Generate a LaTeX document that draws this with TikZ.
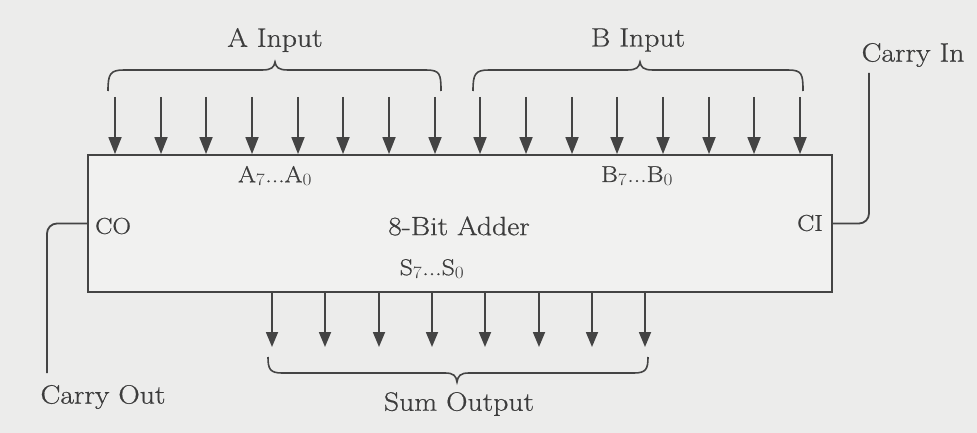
\documentclass[tikz,border=0pt]{standalone}
\usepackage{fontspec}
\usepackage{graphicx}
\setmainfont{Latin Modern Roman}[FakeBold=0.6,AutoFakeBold=0.6]
\usetikzlibrary{arrows.meta}
\definecolor{bg}{RGB}{236,236,235}
\definecolor{boxfill}{RGB}{241,241,240}
\definecolor{ink}{RGB}{68,68,68}
\definecolor{textink}{RGB}{60,60,60}
\newcommand{\bigfont}{\fontsize{26.5}{30}\selectfont}
\newcommand{\midfont}{\fontsize{23}{27}\selectfont}
\newcommand{\wide}[1]{\scalebox{1.12}[1]{#1}}
\begin{document}
\begin{tikzpicture}[x=1pt,y=-1pt,
  wire/.style={draw=ink,line width=1.8pt},
  bitarrow/.style={wire,-{Triangle[length=17pt,width=13pt]}},
  outarrow/.style={wire,-{Triangle[length=15pt,width=12pt]}},
  label/.style={text=textink,inner sep=0pt,font=\bigfont},
  sublabel/.style={text=textink,inner sep=0pt,font=\midfont},
  bracepath/.style={draw=ink,line width=1.6pt}]
\fill[bg] (0,0) rectangle (977,433);
\useasboundingbox (0,0) rectangle (977,433);
% main box
\node[draw=ink,fill=boxfill,line width=1.8pt,minimum width=744pt,minimum height=137pt,inner sep=0pt] (adder) at (460,223.5) {};
\node[label] (title) at (459,226) {\wide{8-Bit Adder}};
\node[sublabel] (alab) at (275,176) {\wide{A$_7$...A$_0$}};
\node[sublabel] (blab) at (637,176) {\wide{B$_7$...B$_0$}};
\node[sublabel] (slab) at (432,269) {\wide{S$_7$...S$_0$}};
\node[sublabel,anchor=west] (co) at (95,226) {\wide{CO}};
\node[sublabel,anchor=east] (ci) at (823,223) {\wide{CI}};
% outer labels
\node[label] (ain) at (275,40) {\wide{A Input}};
\node[label] (bin) at (638,40) {\wide{B Input}};
\node[label] (cin) at (913,55) {\wide{Carry In}};
\node[label] (cout) at (103,397) {\wide{Carry Out}};
\node[label] (sout) at (459,404) {\wide{Sum Output}};
% top arrows
\foreach \i in {0,...,15}{
  \pgfmathsetmacro{\tx}{round(115+45.667*\i)}
  \coordinate (t\i) at (\tx,97);
  \draw[bitarrow] (t\i) -- (t\i |- adder.north);
}
% bottom arrows
\foreach \i in {0,...,7}{
  \pgfmathsetmacro{\bx}{round(272+53.3*\i)}
  \coordinate (b\i) at (\bx,347);
  \draw[outarrow] (b\i |- adder.south) -- (b\i);
}
% braces
\draw[bracepath] (108,91) .. controls (108,74) and (110,70) .. (124,70) -- (262,70)
  .. controls (272,70) and (274,67) .. (275,62) .. controls (276,67) and (278,70) .. (288,70)
  -- (426,70) .. controls (440,70) and (441,74) .. (441,91);
\draw[bracepath] (473,91) .. controls (473,74) and (475,70) .. (489,70) -- (627,70)
  .. controls (637,70) and (639,67) .. (640,62) .. controls (641,67) and (643,70) .. (653,70)
  -- (788,70) .. controls (802,70) and (803,74) .. (803,91);
\draw[bracepath] (268,357) .. controls (268,369) and (270,373) .. (282,373) -- (445,373)
  .. controls (454,373) and (456,376) .. (457,382) .. controls (458,376) and (460,373) .. (469,373)
  -- (634,373) .. controls (646,373) and (648,369) .. (648,357);
% carry wires
\coordinate (cintop) at (869,73);
\coordinate (coutbot) at (47,373);
\draw[wire,rounded corners=10pt] (cintop) |- (adder.east);
\draw[wire,rounded corners=10pt] (adder.west) -| (coutbot);
\end{tikzpicture}
\end{document}
